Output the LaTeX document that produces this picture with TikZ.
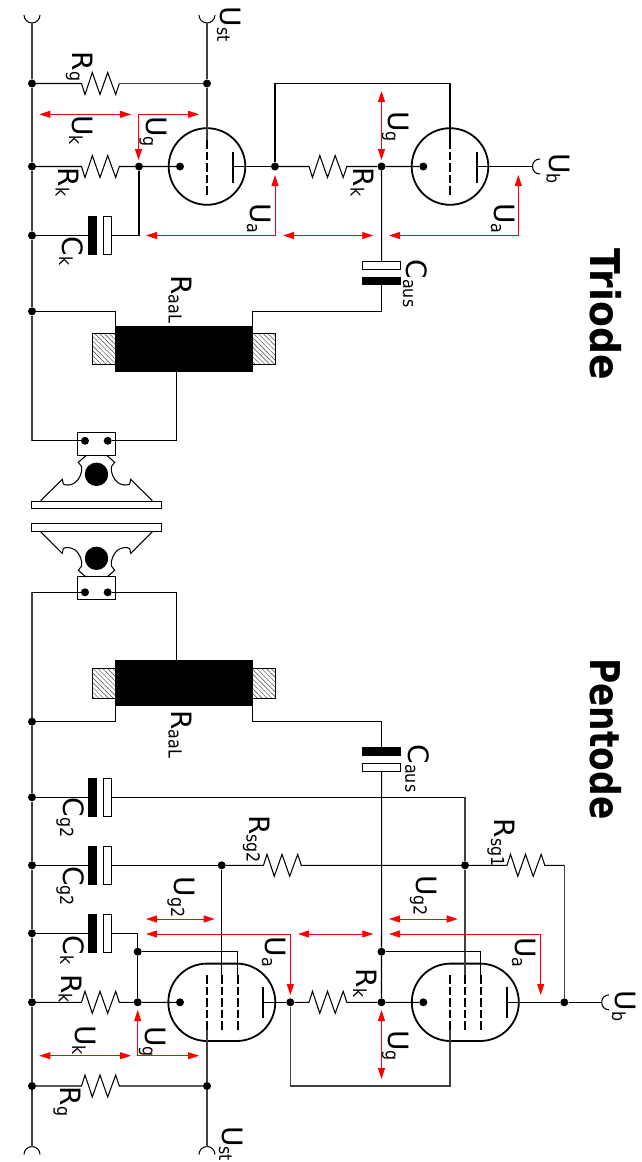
\documentclass[tikz,border=0pt]{standalone}
\usepackage{graphicx}
\usepackage{fontspec}
\setmainfont{DejaVu Sans}
\usetikzlibrary{arrows.meta,patterns.meta,shapes.misc,calc}
\tikzset{
  x=1pt,y=-1pt,
  wire/.style={line width=1.05pt,black},
  railw/.style={line width=1.4pt,black!75},
  volt/.style={red,line width=.8pt,{Triangle[length=11pt,width=7pt]}-{Triangle[length=11pt,width=7pt]}},
  jn/.style={circle,fill=black,inner sep=0pt,minimum size=8pt},
  bigdot/.style={circle,fill=black,inner sep=0pt,minimum size=23.4pt},
  gridw/.style={line width=1.7pt,dash pattern=on 8.5pt off 3pt},
  bar/.style={line width=1.7pt},
  triodetube/.style={circle,draw,line width=1.8pt,inner sep=0pt,minimum size=76.6pt},
  pentodetube/.style={rounded rectangle,draw,line width=1.8pt,inner sep=0pt,minimum width=107pt,minimum height=77.4pt},
  platek/.style={rectangle,fill=black,inner sep=0pt,minimum width=9pt,minimum height=38.5pt},
  platew/.style={rectangle,draw,fill=white,line width=.9pt,inner sep=0pt,minimum width=8pt,minimum height=38pt},
  plateKh/.style={rectangle,fill=black,inner sep=0pt,minimum width=38.5pt,minimum height=8.5pt},
  plateWh/.style={rectangle,draw,fill=white,line width=.9pt,inner sep=0pt,minimum width=38pt,minimum height=7.5pt},
  coreblock/.style={rectangle,fill=black,inner sep=0pt,minimum width=138pt,minimum height=46.3pt},
  hatchbox/.style={rectangle,draw,line width=.9pt,pattern={Lines[angle=135,distance=3.4pt,line width=.45pt]},pattern color=black!75,inner sep=0pt,minimum width=22.5pt,minimum height=30.5pt},
  termbox/.style={rectangle,draw,fill=white,line width=1.05pt,inner sep=0pt,minimum width=38.5pt,minimum height=22.8pt},
  spkplate/.style={rectangle,draw,fill=white,line width=1.05pt,inner sep=0pt,minimum width=129.6pt,minimum height=7.6pt},
  lab/.style={rotate=-90,anchor=base west,inner sep=0pt,font=\fontsize{28}{28}\selectfont},
  ttl/.style={rotate=-90,anchor=base west,inner sep=0pt,font=\fontsize{41}{41}\selectfont\bfseries},
}
\newcommand\lbl[5]{\node[lab] (#1) at (#2,#3) {#4\raisebox{-3pt}{\scalebox{.88}[1]{\fontsize{18}{18}\selectfont #5}}};}
\newcommand\zigA{-- ++(3.5,11) -- ++(7.3,-22) -- ++(7.7,22) -- ++(7.7,-22) -- ++(8,22) -- ++(3.6,-11)}
\newcommand\zigB{-- ++(3.5,-11) -- ++(7.3,22) -- ++(7.7,-22) -- ++(7.7,22) -- ++(8,-22) -- ++(3.6,11)}
\newcommand\cone{(-10.5,-18.7) -- (-18.2,-12) -- (-14.8,-7.6) .. controls (-14,-2) and (-17,5) .. (-21.5,8.4) .. controls (-25,11) and (-31,11.5) .. (-33.2,9.7) -- (-34.2,5) -- (-55.8,26.4)}
\begin{document}
\begin{tikzpicture}
\useasboundingbox (0,0) rectangle (641,1162);
% ---------- junctions: triode
\node[jn] (a1) at (32,83.5) {};
\node[jn] (a2) at (207,83.5) {};
\node[jn] (a3) at (32,166.5) {};
\node[jn] (a4) at (139,166.5) {};
\node[jn] (a5) at (32,235.5) {};
\node[jn] (a6) at (275,166.5) {};
\node[jn] (a7) at (381.5,166.5) {};
\node[jn] (a8) at (32,311.3) {};
\node[jn] (ak1) at (180,166.5) {};
\node[jn] (ak2) at (423.3,166.5) {};
% ---------- junctions: pentode
\node[jn] (b1) at (32,721.7) {};
\node[jn] (b2) at (32,797.3) {};
\node[jn] (b3) at (32,865.3) {};
\node[jn] (b4) at (32,933.3) {};
\node[jn] (b5) at (32,1002.3) {};
\node[jn] (b6) at (32,1086) {};
\node[jn] (b7) at (207,1086) {};
\node[jn] (b8) at (137.7,951.7) {};
\node[jn] (b9) at (137.7,1002.3) {};
\node[jn] (b10) at (221.7,865.3) {};
\node[jn] (b11) at (465,865.3) {};
\node[jn] (b12) at (290.3,1002.3) {};
\node[jn] (b13) at (381.5,951.7) {};
\node[jn] (b14) at (381.5,1002.3) {};
\node[jn] (b15) at (564.3,1002.3) {};
\node[jn] (bk1) at (180,1002.3) {};
\node[jn] (bk2) at (423.3,1002.3) {};
% ---------- tubes
\node[triodetube] (t1) at (207,166.5) {};
\node[triodetube] (t2) at (450,166.5) {};
\node[pentodetube] (p1) at (221.8,1002.3) {};
\node[pentodetube] (p2) at (465.3,1002.3) {};
% ---------- free ends
\coordinate (railA) at (32,23);
\coordinate (ustA) at (207,23);
\coordinate (railB) at (32,1146.5);
\coordinate (ustB) at (207,1146.5);
\coordinate (ubA) at (532.5,166.5);
\coordinate (ubB) at (601.7,1002.3);
% ---------- supply cups
\draw[wire] (24,15) .. controls (24,19.4) and (27.6,23) .. (railA) .. controls (36.4,23) and (40,19.4) .. (40,15);
\draw[wire] (199,15) .. controls (199,19.4) and (202.6,23) .. (ustA) .. controls (211.4,23) and (215,19.4) .. (215,15);
\draw[wire] (24,1154.5) .. controls (24,1150.1) and (27.6,1146.5) .. (railB) .. controls (36.4,1146.5) and (40,1150.1) .. (40,1154.5);
\draw[wire] (199,1154.5) .. controls (199,1150.1) and (202.6,1146.5) .. (ustB) .. controls (211.4,1146.5) and (215,1150.1) .. (215,1154.5);
\draw[wire] (540,159) .. controls (535.6,159) and (532.5,162.1) .. (ubA) .. controls (532.5,170.9) and (535.6,174) .. (540,174);
\draw[wire] (609.2,994.8) .. controls (604.8,994.8) and (601.7,997.9) .. (ubB) .. controls (601.7,1006.7) and (604.8,1009.8) .. (609.2,1009.8);
% ---------- transformers
\node[hatchbox] (hl1) at (104,349) {};
\node[hatchbox] (hr1) at (264,349) {};
\node[coreblock] (core1) at (184,349) {};
\node[hatchbox] (hl2) at (104,683.3) {};
\node[hatchbox] (hr2) at (264,683.3) {};
\node[coreblock] (core2) at (184,683.2) {};
% ---------- capacitors
\node[platek] (ck1k) at (92.5,235.5) {};
\node[platew] (ck1w) at (107.7,235.5) {};
\node[plateWh] (ca1w) at (381.7,265.5) {};
\node[plateKh] (ca1k) at (381.7,281) {};
\node[plateKh] (ca2k) at (381.7,751.7) {};
\node[plateWh] (ca2w) at (381.7,767.2) {};
\node[platek] (cg1k) at (92.5,797.3) {};
\node[platew] (cg1w) at (107.7,797.3) {};
\node[platek] (cg2k) at (92.5,865.3) {};
\node[platew] (cg2w) at (107.7,865.3) {};
\node[platek] (ck2k) at (92.5,933.3) {};
\node[platew] (ck2w) at (107.7,933.3) {};
% ---------- rails
\draw[railw] (railA) -- (a1) -- (a3) -- (a5) -- (a8);
\draw[railw] (b1) -- (b2) -- (b3) -- (b4) -- (b5) -- (b6) -- (railB);
\draw[railw] (ustA) -- (a2);
% ---------- triode wiring
\coordinate (r1a) at (81.5,83.5); \coordinate (r1b) at (119.3,83.5);
\draw[wire] (a1) -- (r1a) \zigA;
\draw[railw] (r1b) -- (a2);
\coordinate (g1t) at (207,140);
\draw[railw] (a2) -- (g1t);
\draw[gridw] (g1t) -- (207,195);
\coordinate (r2a) at (81.5,166.5); \coordinate (r2b) at (119.3,166.5);
\draw[wire] (a3) -- (r2a) \zigA -- (a4) -- (ak1);
\coordinate (an1) at (233,166.5);
\draw[bar] (233,152) -- (an1) -- (233,183);
\draw[wire] (an1) -- (a6);
\coordinate (r3a) at (309,166.5);
\draw[wire] (a6) -- (r3a) \zigA -- (a7) -- (ak2);
\coordinate (g2t) at (450,140);
\coordinate (c1) at (275,83.5); \coordinate (c2) at (450,83.5);
\draw[wire] (a6) -- (c1) -- (c2) -- (g2t);
\draw[gridw] (g2t) -- (450,195);
\coordinate (an2) at (476.7,166.5);
\draw[bar] (476.7,152) -- (an2) -- (476.7,183);
\draw[wire] (an2) -- (ubA);
\coordinate (c3) at (139,235.5);
\draw[wire] (a5) -- (ck1k);
\draw[wire] (ck1w) -- (c3) -- (a4);
\draw[wire] (a7) -- (ca1w);
\coordinate (c4) at (381.7,311.3); \coordinate (c5) at (252.7,311.3); \coordinate (c6) at (252.7,326);
\draw[wire] (ca1k) -- (c4) -- (c5) -- (c6);
\coordinate (c7) at (115.7,311.3); \coordinate (c8) at (115.7,326);
\draw[wire] (a8) -- (c7) -- (c8);
% ---------- speakers
\coordinate (d1) at (85,440.8); \coordinate (d2) at (107.7,440.8);
\coordinate (c9) at (32,440.8); \coordinate (c10) at (176.7,440.8); \coordinate (c11) at (176.7,372);
\coordinate (d3) at (85,592.3); \coordinate (d4) at (107.7,592.3);
\coordinate (c12) at (32,592.3); \coordinate (c13) at (176.7,592.3); \coordinate (c14) at (176.7,660);
\draw[railw] (a8) -- (c9);
\draw[railw] (c12) -- (b1);
\node[termbox] (tb1) at (96.7,444) {};
\node[termbox] (tb2) at (96.7,588.3) {};
\node[jn] (s1) at (d1) {}; \node[jn] (s2) at (d2) {};
\node[jn] (s3) at (d3) {}; \node[jn] (s4) at (d4) {};
\draw[wire] (c9) -- (s1);
\draw[wire] (s2) -- (c10) -- (c11);
\draw[wire] (c12) -- (s3);
\draw[wire] (s4) -- (c13) -- (c14);
\node[bigdot] (v1) at (96.5,474.3) {};
\node[bigdot] (v2) at (96.5,558.3) {};
\begin{scope}[shift={(96.5,474.3)}]
  \draw[wire] \cone;
  \draw[wire,xscale=-1] \cone;
\end{scope}
\begin{scope}[shift={(96.5,558.3)}]
  \draw[wire,yscale=-1] \cone;
  \draw[wire,xscale=-1,yscale=-1] \cone;
\end{scope}
\node[spkplate] (sp1) at (96.5,505) {};
\node[spkplate] (sp2) at (96.5,527.7) {};
% ---------- pentode wiring
\coordinate (c15) at (115.7,721.7); \coordinate (c16) at (115.7,706);
\draw[wire] (b1) -- (c15) -- (c16);
\coordinate (c17) at (252.7,706); \coordinate (c18) at (252.7,721.7); \coordinate (c19) at (381.7,721.7);
\draw[wire] (c17) -- (c18) -- (c19) -- (ca2k);
\draw[wire] (ca2w) -- (b13) -- (b14) -- (bk2);
\coordinate (c20) at (465,797.3); \coordinate (g4) at (465,975);
\draw[wire] (b2) -- (cg1k);
\draw[wire] (cg1w) -- (c20);
\draw[railw] (c20) -- (b11) -- (g4);
\draw[gridw] (g4) -- (465,1030);
\draw[wire] (b3) -- (cg2k);
\draw[wire] (cg2w) -- (b10);
\coordinate (r4a) at (263.5,865.3); \coordinate (r4b) at (301.3,865.3);
\draw[wire] (b10) -- (r4a) \zigB -- (b11);
\coordinate (r5a) at (507,865.3); \coordinate (c21) at (564.3,865.3);
\draw[wire] (b11) -- (r5a) \zigB -- (c21);
\draw[railw] (c21) -- (b15);
\draw[wire] (b15) -- (ubB);
\coordinate (g2a) at (221.7,975);
\draw[wire] (b10) -- (g2a);
\draw[gridw] (g2a) -- (221.7,1030);
\coordinate (c22) at (237.7,951.7); \coordinate (g3a) at (237.7,975);
\draw[wire] (b8) -- (c22) -- (g3a);
\draw[gridw] (g3a) -- (237.7,1030);
\coordinate (g1b) at (207,1030);
\draw[gridw] (207,975) -- (g1b);
\draw[railw] (g1b) -- (b7) -- (ustB);
\coordinate (r6a) at (81.5,1086);
\draw[wire] (b6) -- (r6a) \zigB -- (b7);
\coordinate (r7a) at (81.5,1002.3);
\draw[wire] (b5) -- (r7a) \zigB -- (b9) -- (bk1);
\draw[wire] (b4) -- (ck2k);
\coordinate (c23) at (137.7,933.3);
\draw[wire] (ck2w) -- (c23) -- (b8) -- (b9);
\coordinate (an3) at (263.3,1002.3);
\draw[bar] (263.3,986.7) -- (an3) -- (263.3,1018.3);
\draw[wire] (an3) -- (b12);
\coordinate (r8a) at (309,1002.3);
\draw[wire] (b12) -- (r8a) \zigB -- (b14);
\coordinate (c24) at (290.3,1086); \coordinate (c25) at (450,1086); \coordinate (g5) at (450,1030);
\draw[railw] (b12) -- (c24) -- (c25) -- (g5);
\draw[gridw] (450,975) -- (g5);
\coordinate (c26) at (480.7,951.7); \coordinate (g6) at (480.7,975);
\draw[wire] (b13) -- (c26) -- (g6);
\draw[gridw] (g6) -- (480.7,1030);
\coordinate (an4) at (506.7,1002.3);
\draw[bar] (506.7,986.7) -- (an4) -- (506.7,1018.3);
\draw[wire] (an4) -- (b15);
% ---------- voltage arrows: triode
\coordinate (v1a) at (39.3,114.3); \coordinate (v1b) at (131,114.3);
\draw[volt] (v1a) -- (v1b);
\coordinate (v2a) at (199,114.3); \coordinate (v2c) at (138.5,114.3); \coordinate (v2b) at (138.5,160);
\draw[volt] (v2a) -- (v2c) -- (v2b);
\coordinate (v3a) at (146,235.5); \coordinate (v3c) at (275,235.5); \coordinate (v3b) at (275,175);
\draw[volt] (v3a) -- (v3c) -- (v3b);
\coordinate (v4a) at (283,235.5); \coordinate (v4b) at (373.3,235.5);
\draw[volt] (v4a) -- (v4b);
\coordinate (v5a) at (389,235.5); \coordinate (v5c) at (518.3,235.5); \coordinate (v5b) at (518.3,175);
\draw[volt] (v5a) -- (v5c) -- (v5b);
\coordinate (v6a) at (381.5,91); \coordinate (v6b) at (381.5,160);
\draw[volt] (v6a) -- (v6b);
% ---------- voltage arrows: pentode
\coordinate (w1a) at (146,919); \coordinate (w1b) at (214.7,919);
\draw[volt] (w1a) -- (w1b);
\coordinate (w2a) at (146,934); \coordinate (w2c) at (290.3,934); \coordinate (w2b) at (290.3,995);
\draw[volt] (w2a) -- (w2c) -- (w2b);
\coordinate (w3a) at (298,934); \coordinate (w3b) at (373.3,934);
\draw[volt] (w3a) -- (w3b);
\coordinate (w4a) at (389,919); \coordinate (w4b) at (457.7,919);
\draw[volt] (w4a) -- (w4b);
\coordinate (w5a) at (389,934); \coordinate (w5c) at (540.7,934); \coordinate (w5b) at (540.7,995);
\draw[volt] (w5a) -- (w5c) -- (w5b);
\coordinate (w6a) at (39.3,1055.7); \coordinate (w6b) at (131,1055.7);
\draw[volt] (w6a) -- (w6b);
\coordinate (w7a) at (137.7,1010); \coordinate (w7c) at (137.7,1055.7); \coordinate (w7b) at (199,1055.7);
\draw[volt] (w7a) -- (w7c) -- (w7b);
\coordinate (w8a) at (381.5,1010); \coordinate (w8b) at (381.5,1079);
\draw[volt] (w8a) -- (w8b);
% ---------- labels: triode
\lbl{l1}{220}{6.5}{U}{st}
\lbl{l2}{72.7}{51.5}{R}{g}
\lbl{l3}{72}{115}{U}{k}
\lbl{l4}{146}{116}{U}{g}
\lbl{l5}{58.5}{167.5}{R}{k}
\lbl{l6}{62}{236.5}{C}{k}
\lbl{l7}{171.7}{275}{R}{aaL}
\lbl{l8}{250}{203}{U}{a}
\lbl{l9}{388.5}{111}{U}{g}
\lbl{l10}{353.5}{167.5}{R}{k}
\lbl{l11}{494}{203}{U}{a}
\lbl{l12}{549.5}{153}{U}{b}
\lbl{l13}{406}{259.5}{C}{aus}
\node[ttl,xscale=.92] (tt) at (590,248) {Triode};
% ---------- labels: pentode
\lbl{m1}{63}{797.5}{C}{g2}
\lbl{m2}{63}{866}{C}{g2}
\lbl{m3}{171.7}{710}{R}{aaL}
\lbl{m4}{408.3}{744.5}{C}{aus}
\lbl{m5}{249.5}{815}{R}{sg2}
\lbl{m6}{494}{818.5}{R}{sg1}
\lbl{m7}{174}{876.5}{U}{g2}
\lbl{m8}{416.7}{875}{U}{g2}
\lbl{m9}{265}{936.5}{U}{a}
\lbl{m10}{515}{937}{U}{a}
\lbl{m11}{63}{935.5}{C}{k}
\lbl{m12}{61.7}{974}{R}{k}
\lbl{m13}{356}{968.5}{R}{k}
\lbl{m14}{75}{1025}{U}{k}
\lbl{m15}{145.7}{1026}{U}{g}
\lbl{m16}{388.5}{1030}{U}{g}
\lbl{m17}{60}{1086.5}{R}{g}
\lbl{m18}{222}{1126}{U}{st}
\lbl{m19}{615}{990.5}{U}{b}
\node[ttl,xscale=.84] (tp) at (590,658) {Pentode};
\end{tikzpicture}
\end{document}
